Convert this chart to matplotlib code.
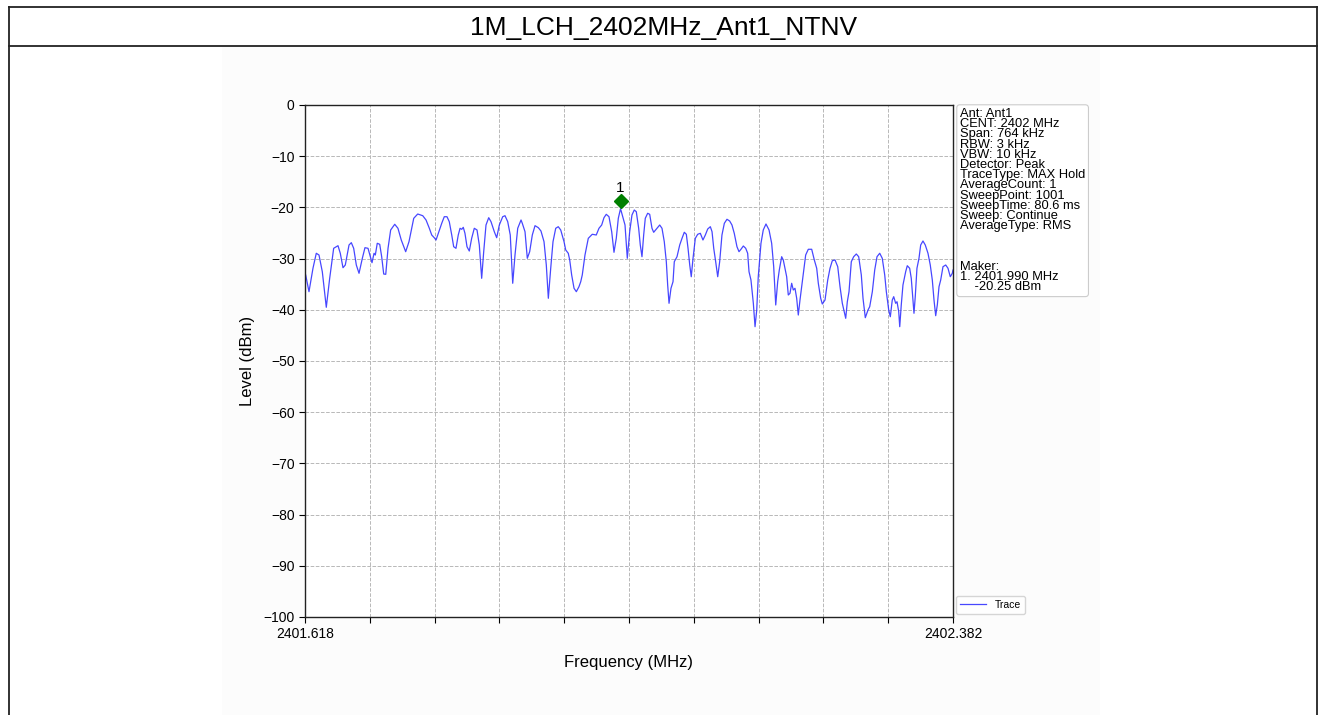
import matplotlib
matplotlib.use("Agg")
import matplotlib.pyplot as plt
import matplotlib.transforms as mtransforms
from matplotlib.patches import Rectangle
from matplotlib.lines import Line2D

plt.rcParams['font.family'] = ['Liberation Sans', 'DejaVu Sans']

# Chart data
Title = "1M_LCH_2402MHz_Ant1_NTNV"
StartFreq = 2401.618
StopFreq = 2402.382
LevelTicks = [0, -10, -20, -30, -40, -50, -60, -70, -80, -90, -100]

# Trace (MHz)
Freq = [
    2401.6180, 2401.6188, 2401.6227, 2401.6274, 2401.6313, 2401.6345, 2401.6384, 2401.6431, 2401.6471,
    2401.6518, 2401.6569, 2401.6596, 2401.6628, 2401.6655, 2401.6699, 2401.6726, 2401.6754, 2401.6785,
    2401.6817, 2401.6856, 2401.6887, 2401.6923, 2401.6943, 2401.6970, 2401.6994, 2401.7009, 2401.7032,
    2401.7061, 2401.7084, 2401.7108, 2401.7132, 2401.7159, 2401.7190, 2401.7238, 2401.7276, 2401.7315,
    2401.7367, 2401.7406, 2401.7430, 2401.7462, 2401.7509, 2401.7568, 2401.7607, 2401.7646, 2401.7674,
    2401.7704, 2401.7725, 2401.7752, 2401.7792, 2401.7822, 2401.7854, 2401.7881, 2401.7910, 2401.7933,
    2401.7960, 2401.7987, 2401.8008, 2401.8028, 2401.8046, 2401.8066, 2401.8090, 2401.8117, 2401.8145,
    2401.8176, 2401.8208, 2401.8235, 2401.8263, 2401.8287, 2401.8314, 2401.8346, 2401.8373, 2401.8412,
    2401.8440, 2401.8471, 2401.8511, 2401.8538, 2401.8570, 2401.8600, 2401.8629, 2401.8656, 2401.8688,
    2401.8727, 2401.8742, 2401.8774, 2401.8801, 2401.8829, 2401.8860, 2401.8892, 2401.8931, 2401.8962,
    2401.8998, 2401.9025, 2401.9049, 2401.9077, 2401.9104, 2401.9136, 2401.9166, 2401.9195, 2401.9234,
    2401.9254, 2401.9284, 2401.9301, 2401.9324, 2401.9352, 2401.9379, 2401.9410, 2401.9431, 2401.9449,
    2401.9481, 2401.9520, 2401.9567, 2401.9614, 2401.9646, 2401.9678, 2401.9705, 2401.9732, 2401.9764,
    2401.9796, 2401.9823, 2401.9850, 2401.9874, 2401.9900, 2401.9953, 2401.9980, 2402.0008, 2402.0035,
    2402.0062, 2402.0086, 2402.0114, 2402.0133, 2402.0153, 2402.0173, 2402.0192, 2402.0220, 2402.0244,
    2402.0271, 2402.0291, 2402.0330, 2402.0362, 2402.0389, 2402.0416, 2402.0440, 2402.0456, 2402.0472,
    2402.0495, 2402.0519, 2402.0534, 2402.0566, 2402.0598, 2402.0625, 2402.0652, 2402.0676, 2402.0696,
    2402.0716, 2402.0734, 2402.0755, 2402.0782, 2402.0810, 2402.0841, 2402.0872, 2402.0900, 2402.0928,
    2402.0959, 2402.0979, 2402.0999, 2402.1022, 2402.1046, 2402.1069, 2402.1096, 2402.1124, 2402.1155,
    2402.1187, 2402.1214, 2402.1241, 2402.1273, 2402.1297, 2402.1320, 2402.1348, 2402.1376, 2402.1399,
    2402.1415, 2402.1438, 2402.1466, 2402.1486, 2402.1506, 2402.1524, 2402.1556, 2402.1583, 2402.1615,
    2402.1651, 2402.1682, 2402.1706, 2402.1730, 2402.1753, 2402.1772, 2402.1800, 2402.1819, 2402.1839,
    2402.1859, 2402.1878, 2402.1898, 2402.1918, 2402.1937, 2402.1957, 2402.1977, 2402.1996, 2402.2016,
    2402.2036, 2402.2055, 2402.2083, 2402.2114, 2402.2154, 2402.2185, 2402.2213, 2402.2232, 2402.2260,
    2402.2279, 2402.2311, 2402.2343, 2402.2370, 2402.2397, 2402.2429, 2402.2461, 2402.2488, 2402.2515,
    2402.2555, 2402.2574, 2402.2594, 2402.2621, 2402.2649, 2402.2680, 2402.2708, 2402.2739, 2402.2759,
    2402.2786, 2402.2818, 2402.2838, 2402.2869, 2402.2897, 2402.2924, 2402.2956, 2402.2986, 2402.3015,
    2402.3034, 2402.3062, 2402.3081, 2402.3104, 2402.3121, 2402.3144, 2402.3160, 2402.3180, 2402.3192,
    2402.3210, 2402.3230, 2402.3262, 2402.3281, 2402.3309, 2402.3328, 2402.3348, 2402.3360, 2402.3375,
    2402.3395, 2402.3419, 2402.3439, 2402.3466, 2402.3493, 2402.3525, 2402.3552, 2402.3576, 2402.3596,
    2402.3616, 2402.3635, 2402.3655, 2402.3675, 2402.3702, 2402.3734, 2402.3761, 2402.3788, 2402.3812,
    2402.3820,
]

# Trace (dBm)
Level = [
    -32.80, -33.20, -36.46, -31.89, -28.96, -29.30, -32.56, -39.51, -33.85,
    -27.99, -27.48, -28.96, -31.78, -31.25, -27.34, -26.89, -27.99, -31.25,
    -32.87, -29.94, -27.87, -27.99, -29.16, -30.80, -28.96, -29.30, -27.01,
    -27.21, -29.63, -33.01, -33.07, -27.99, -24.41, -23.30, -24.08, -26.37,
    -28.65, -26.70, -24.75, -22.13, -21.29, -21.62, -22.46, -24.08, -25.39,
    -25.92, -26.37, -25.06, -23.11, -21.82, -21.82, -22.79, -25.39, -27.68,
    -27.99, -25.39, -24.08, -24.28, -23.89, -25.06, -27.68, -28.52, -26.04,
    -24.08, -24.41, -27.34, -33.85, -28.65, -23.44, -22.01, -22.79, -24.75,
    -25.92, -23.44, -21.82, -21.62, -22.79, -25.39, -34.82, -29.30, -24.08,
    -22.46, -23.11, -24.75, -29.94, -28.65, -25.39, -23.57, -23.96, -24.61,
    -26.70, -31.25, -37.75, -31.89, -26.70, -24.08, -23.77, -24.41, -26.70,
    -28.32, -28.96, -30.27, -33.20, -35.80, -36.46, -35.49, -34.51, -33.20,
    -29.30, -26.04, -25.25, -25.39, -24.08, -23.44, -22.01, -21.35, -21.82,
    -24.75, -28.77, -26.04, -22.13, -20.25, -23.44, -29.94, -24.75, -21.48,
    -20.51, -20.84, -24.08, -27.34, -29.63, -25.39, -22.13, -21.15, -21.35,
    -24.08, -24.86, -24.08, -23.44, -24.08, -26.70, -30.61, -35.16, -38.73,
    -35.80, -34.51, -30.61, -29.63, -27.34, -26.04, -24.86, -25.25, -27.99,
    -31.25, -33.54, -29.94, -26.04, -25.25, -25.06, -26.37, -25.39, -24.22,
    -23.77, -24.75, -27.99, -30.61, -33.54, -30.61, -25.39, -23.11, -22.32,
    -22.66, -23.44, -25.06, -27.68, -28.65, -28.18, -27.54, -27.99, -28.96,
    -32.56, -34.18, -38.73, -43.30, -40.04, -33.54, -27.01, -24.41, -23.24,
    -24.41, -27.01, -31.58, -39.06, -34.51, -32.23, -29.63, -30.27, -31.89,
    -33.54, -37.11, -36.78, -34.82, -36.13, -35.80, -37.75, -41.02, -38.09,
    -35.49, -32.87, -29.30, -28.18, -28.18, -30.27, -31.89, -34.82, -37.75,
    -38.87, -38.09, -34.18, -31.89, -30.41, -30.27, -31.58, -35.49, -38.73,
    -41.66, -38.42, -36.46, -30.61, -29.63, -29.10, -29.63, -33.20, -37.75,
    -41.54, -40.04, -39.39, -36.46, -32.23, -29.63, -28.96, -29.94, -33.20,
    -36.46, -40.04, -41.35, -38.09, -37.44, -38.73, -38.42, -40.37, -43.30,
    -39.06, -35.16, -32.56, -31.39, -31.89, -33.85, -38.09, -40.68, -37.44,
    -31.89, -29.94, -27.34, -26.56, -27.34, -28.96, -31.25, -34.18, -38.09,
    -41.15, -39.06, -35.49, -34.18, -31.58, -31.25, -31.89, -33.54, -32.87,
    -32.23,
]

# Marker
MarkerFreq = 2401.990
MarkerLevel = -20.25

InfoLines = [
    "Ant: Ant1",
    "CENT: 2402 MHz",
    "Span: 764 kHz",
    "RBW: 3 kHz",
    "VBW: 10 kHz",
    "Detector: Peak",
    "TraceType: MAX Hold",
    "AverageCount: 1",
    "SweepPoint: 1001",
    "SweepTime: 80.6 ms",
    "Sweep: Continue",
    "AverageType: RMS",
    "",
    "",
    "",
    "Maker:",
    "1. 2401.990 MHz",
    "    -20.25 dBm",
]

W, H = 1319, 715
fig = plt.figure(figsize=(W / 100.0, H / 100.0), dpi=100)
fig.patch.set_facecolor('white')

# Outer table frame and title row
fig.patches.append(Rectangle((222.0 / W, 0), (1100 - 222.0) / W, (715 - 47.0) / H,
                             transform=fig.transFigure, facecolor='#fcfcfc', edgecolor='none', zorder=-5))
frame_kw = dict(transform=fig.transFigure, color='#222222', lw=1.3)
fig.lines.append(Line2D([8.5 / W, 8.5 / W], [0, 1 - 6.5 / H], **frame_kw))
fig.lines.append(Line2D([1316.5 / W, 1316.5 / W], [0, 1 - 6.5 / H], **frame_kw))
fig.lines.append(Line2D([8.5 / W, 1316.5 / W], [1 - 6.5 / H, 1 - 6.5 / H], **frame_kw))
fig.lines.append(Line2D([8.5 / W, 1316.5 / W], [1 - 46 / H, 1 - 46 / H], **frame_kw))
fig.text(664.0 / W, 1 - 28.0 / H, Title, ha='center', va='center', fontsize=19)

# Plot axes
ax = fig.add_axes([305.0 / W, 1 - 617.0 / H, (953 - 305.0) / W, (617 - 105.0) / H])
ax.set_facecolor('white')
ax.plot(Freq, Level, color='#3333ff', lw=0.9, alpha=0.9, label='Trace')

# Marker drawn slightly above the peak
off = mtransforms.offset_copy(ax.transData, fig=fig, x=0, y=8, units='dots')
ax.plot([MarkerFreq], [MarkerLevel], marker='D', color='green', markersize=7,
        transform=off, zorder=5)
off_txt = mtransforms.offset_copy(ax.transData, fig=fig, x=0, y=14, units='dots')
ax.text(MarkerFreq, MarkerLevel, "1", transform=off_txt, ha='center', va='bottom', fontsize=11)

ax.set_xlim(StartFreq, StopFreq)
ax.set_ylim(-100, 0)
ax.set_yticks(LevelTicks)
ax.set_yticklabels(["\u2212%d" % abs(v) if v < 0 else "%d" % v for v in LevelTicks])
step = (StopFreq - StartFreq) / 10.0
xt = [StartFreq + i * step for i in range(11)]
ax.set_xticks(xt)
ax.set_xticklabels(["%.3f" % StartFreq] + [""] * 9 + ["%.3f" % StopFreq])
ax.tick_params(labelsize=10, length=4)
ax.grid(True, linestyle='--', color='#b8b8b8', lw=0.7)
ax.set_xlabel("Frequency (MHz)", fontsize=12, labelpad=10)
ax.set_ylabel("Level (dBm)", fontsize=12, labelpad=6)
for s in ax.spines.values():
    s.set_color('#222222')
    s.set_linewidth(1.0)

# Info box
fig.text(960.0 / W, 1 - 108.0 / H, "\n".join(InfoLines), ha='left', va='top', fontsize=9.25,
         linespacing=0.8,
         bbox=dict(boxstyle='round,pad=0.25', facecolor='white', edgecolor='#cccccc', lw=0.8))

# Trace legend
ax.legend(loc='lower left', bbox_to_anchor=(1.0, 0.0), fontsize=7.5, frameon=True,
          handlelength=2.5, borderaxespad=0.3, edgecolor='#cccccc', fancybox=True)

fig.savefig("out.png", dpi=100)
